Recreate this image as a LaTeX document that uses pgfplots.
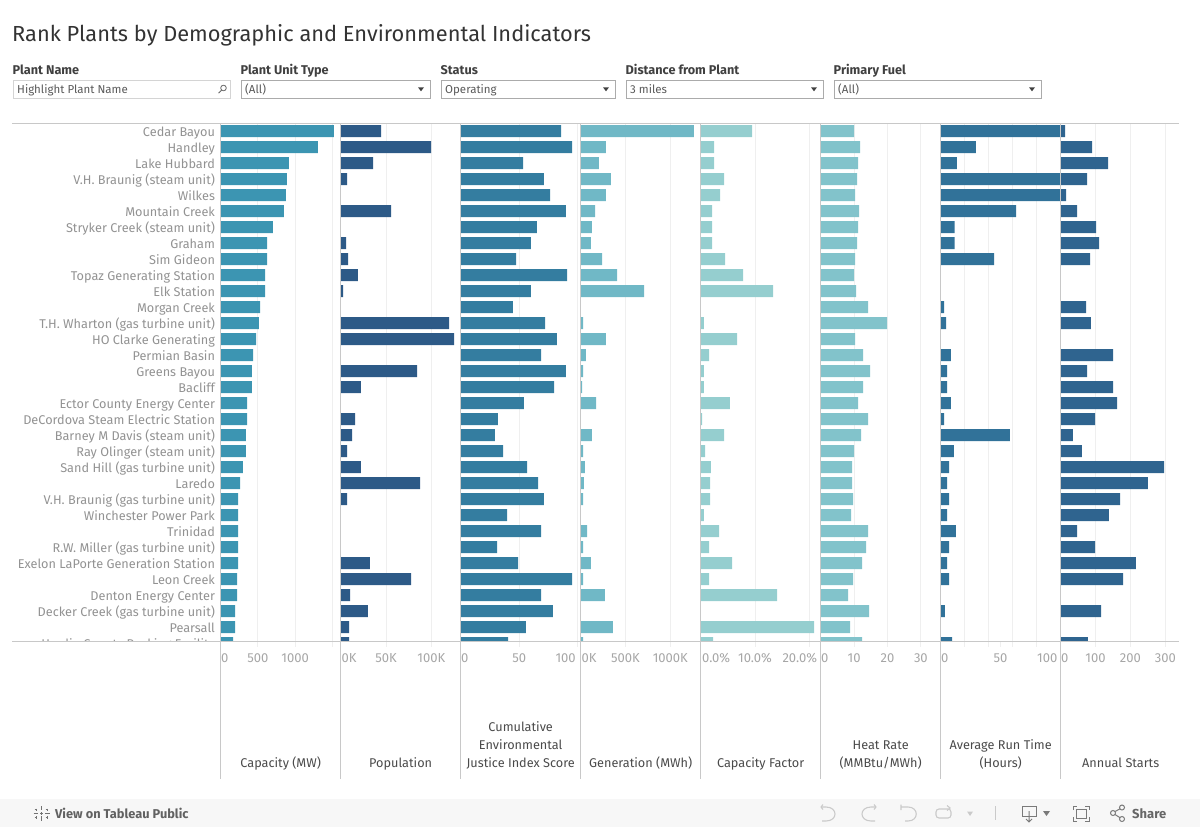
\documentclass[border=0pt]{standalone}
\usepackage{fontspec}
\usepackage{pgfplots}
\usepackage{pgfplotstable}
\pgfplotsset{compat=1.18}
\setmainfont{Fira Sans}
\definecolor{cA}{HTML}{3C95B2}
\definecolor{cB}{HTML}{2D5A87}
\definecolor{cC}{HTML}{347DA0}
\definecolor{cD}{HTML}{70B8C6}
\definecolor{cE}{HTML}{95CECF}
\definecolor{cF}{HTML}{82C3CB}
\definecolor{cG}{HTML}{317299}
\definecolor{cH}{HTML}{2F648F}
\definecolor{sepc}{HTML}{C8C8C8}
\definecolor{gridc}{HTML}{EFEFEF}
\definecolor{rowc}{HTML}{929292}
\definecolor{tickc}{HTML}{A6A6A6}
\definecolor{headc}{HTML}{4A4A4A}
\definecolor{iconc}{HTML}{CACACA}
\pgfplotstableread{
row cap pop ceji gen cf hr run starts
0 1523 44.5 85.8 1263 9.46 10.0 110 12.4
1 1308 99.6 95.2 282 2.46 11.8 29.5 89.8
2 918 35.7 53.3 204 2.46 11.2 13.6 135.7
3 891 7.0 71.2 338 4.30 10.9 110 75.5
4 878 nan 76.4 282 3.56 10.3 110 15.3
5 851 55.5 90.0 160 2.09 11.5 63.0 46.8
6 703 nan 65.2 126 2.09 11.2 11.7 101.3
7 623 5.9 60.1 115 2.09 10.9 11.7 109.9
8 623 8.1 47.3 238 4.48 10.3 44.6 84.1
9 596 19.1 90.9 405 7.80 10.0 nan nan
10 596 2.6 60.1 706 13.32 10.6 nan nan
11 529 nan 44.7 nan nan 14.2 2.8 72.6
12 515 119.5 72.1 26 0.61 19.9 4.5 86.9
13 475 125.0 82.3 282 6.69 10.3 nan nan
14 435 nan 68.7 59 1.54 12.7 8.6 150.0
15 421 84.2 90.0 26 0.61 14.8 5.3 75.5
16 421 22.4 79.8 15 0.61 12.7 5.3 150.0
17 354 nan 54.1 171 5.40 11.2 8.6 161.5
18 354 15.8 31.9 nan 0.25 14.2 2.8 98.4
19 340 12.5 29.3 126 4.30 12.1 57.9 35.3
20 340 7.0 36.2 26 0.80 10.0 11.1 61.1
21 300 22.4 56.7 48 1.90 9.4 7.0 296.2
22 260 87.5 66.1 37 1.72 9.4 5.3 250.3
23 233 7.0 71.2 26 1.72 9.7 7.0 170.1
24 233 nan 39.6 nan 0.61 9.1 5.3 138.5
25 233 nan 68.7 71 3.38 14.2 12.8 46.8
26 233 nan 31.1 26 1.54 13.6 7.0 98.4
27 233 32.3 49.0 115 5.77 12.4 5.3 215.9
28 220 77.6 95.2 26 1.54 9.7 7.0 178.7
29 220 10.3 68.7 271 14.06 8.2 nan nan
30 193 30.1 78.9 nan nan 14.5 3.6 115.6
31 193 9.2 55.8 360 20.88 8.8 nan nan
32 166 9.2 40.5 26 2.27 12.4 9.5 78.3
}\data
\pgfplotsset{
  panel/.style={
    scale only axis, width=120pt, height=517.5pt, anchor=south west,
    ymin=-0.4375, ymax=31.906, y dir=reverse,
    xmin=0, ytick=\empty,
    axis line style={draw=none},
    xtick pos=bottom, xtick align=outside,
    major tick length=5pt, minor tick length=5pt,
    every tick/.style={gridc, line width=0.9pt},
    xmajorgrids=true,
    major grid style={gridc, line width=0.9pt},
    minor grid style={gridc, line width=0.9pt},
    xticklabel style={font=\fontsize{13}{15}\selectfont, text=tickc, yshift=-5.5pt, inner sep=1pt, text height=9pt, text depth=0pt, anchor=north},
    xlabel style={at={(axis description cs:0.5,0)}, anchor=south, yshift=-126.5pt, align=center, text depth=0pt, inner sep=0pt,
       font=\fontsize{12.7}{18}\selectfont, text=headc},
    clip=true,
  },
  bbar/.style={xbar, bar width=12pt, bar shift=0pt, draw=none, fill=#1},
}
\begin{document}
\begin{tikzpicture}
\path[use as bounding box] (0pt,0pt) rectangle (1200pt,-827pt);
% row labels
\begin{axis}[scale only axis, width=120pt, height=535pt, anchor=north west, at={(220.67pt,-124pt)},
  ymin=-0.4375, ymax=33, y dir=reverse, xmin=0, xmax=1613, xtick=\empty,
  axis line style={draw=none}, ytick={0,1,...,32}, major tick length=0pt,
  every tick/.style={draw=none},
  yticklabel style={font=\fontsize{12.7}{15}\selectfont, text=rowc, anchor=east, inner sep=0pt, xshift=-5.5pt, yshift=-2.1pt, text height=9pt, text depth=2.5pt},
  yticklabels={Cedar Bayou,Handley,Lake Hubbard,V.H. Braunig (steam unit),Wilkes,Mountain Creek,Stryker Creek (steam unit),Graham,Sim Gideon,Topaz Generating Station,Elk Station,Morgan Creek,T.H. Wharton (gas turbine unit),HO Clarke Generating,Permian Basin,Greens Bayou,Bacliff,Ector County Energy Center,DeCordova Steam Electric Station,Barney M Davis (steam unit),Ray Olinger (steam unit),Sand Hill (gas turbine unit),Laredo,V.H. Braunig (gas turbine unit),Winchester Power Park,Trinidad,R.W. Miller (gas turbine unit),Exelon LaPorte Generation Station,Leon Creek,Denton Energy Center,Decker Creek (gas turbine unit),Pearsall,Hardin County Peaking Facility}]
\addplot[draw=none, mark=none] table[x=cap,y=row]{\data};
\end{axis}
\fill[white] (0pt,-641.5pt) rectangle (220pt,-665pt);
% panels
\begin{axis}[panel, at={(220.67pt,-641.5pt)}, xmax=1613, xtick={0,500,1000,1500},
  xticklabels={\hspace*{8pt}0,500,1000,{}}, xlabel={Capacity (MW)}]
\addplot[bbar=cA] table[x=cap,y=row]{\data};
\end{axis}
\begin{axis}[panel, at={(340.67pt,-641.5pt)}, xmax=132.3, xtick={0,50,100},
  xticklabels={\hspace*{17pt}0K,50K,100K}, xlabel={Population}]
\addplot[bbar=cB] table[x=pop,y=row]{\data};
\end{axis}
\begin{axis}[panel, at={(460.67pt,-641.5pt)}, xmax=102.56, xtick={0,50,100},
  xticklabels={\hspace*{8pt}0,50,100\hspace*{24pt}}, xlabel={Cumulative\\Environmental\\Justice Index Score}]
\addplot[bbar=cC] table[x=ceji,y=row]{\data};
\end{axis}
\begin{axis}[panel, at={(580.67pt,-641.5pt)}, xmax=1337.8, xtick={0,500,1000},
  xticklabels={\hspace*{17pt}0K,500K,1000K}, xlabel={Generation (MWh)}]
\addplot[bbar=cD] table[x=gen,y=row]{\data};
\end{axis}
\begin{axis}[panel, at={(700.67pt,-641.5pt)}, xmax=22.1, xtick={0,10,20},
  xticklabels={\hspace*{31pt}0.0\%,10.0\%,20.0\%\hspace*{19pt}}, xlabel={Capacity Factor}]
\addplot[bbar=cE] table[x=cf,y=row]{\data};
\end{axis}
\begin{axis}[panel, at={(820.67pt,-641.5pt)}, xmax=35.93, xtick={0,10,20,30},
  xticklabels={\hspace*{8pt}0,10,20,30}, xlabel={Heat Rate\\(MMBtu/MWh)}]
\addplot[bbar=cF] table[x=hr,y=row]{\data};
\end{axis}
\begin{axis}[panel, at={(940.67pt,-641.5pt)}, xmax=100.33, xtick={0,50,100},
  minor xtick={20,40,60,80}, xmajorgrids=false, xminorgrids=true,
  xticklabels={\hspace*{8pt}0,50,100\hspace*{26pt}}, xlabel={Average Run Time\\(Hours)}]
\addplot[bbar=cG] table[x=run,y=row]{\data};
\end{axis}
\begin{axis}[panel, at={(1060.67pt,-641.5pt)}, xmax=344, xtick={0,100,200,300},
  xticklabels={\hspace*{8pt}0,100,200,300}, xlabel={Annual Starts}]
\addplot[bbar=cH] table[x=starts,y=row]{\data};
\end{axis}
\begin{scope}[x=1pt,y=-1pt]
% rules
\draw[sepc, line width=1pt] (12,123.7) -- (1179,123.7);
\draw[sepc, line width=1pt] (12,641.3) -- (1179,641.3);
\foreach \xx in {220.5,340.5,460.5,580.5,700.5,820.5,940.5,1060.5}
  \draw[sepc, line width=1pt] (\xx,124) -- (\xx,778.5);
% title
\node[anchor=base west, inner sep=0pt, text=black!80, font=\fontsize{21.8}{26}\selectfont] at (12,41) {Rank Plants by Demographic and Environmental Indicators};
% filters
\foreach \xx/\lab in {12.5/Plant Name,240.5/Plant Unit Type,440.5/Status,625.5/Distance from Plant,833.5/Primary Fuel}
  \node[anchor=base west, inner sep=0pt, text=black!75, font=\fontsize{12.7}{14}\selectfont\bfseries] at (\xx,74) {\lab};
\draw[black!17, line width=1pt] (13.5,80) rectangle (230.5,98);
\foreach \a/\b in {241.5/430.5,441.5/615.5,626.5/823.5,834.5/1041.5}
  \draw[black!33, line width=1pt] (\a,80) rectangle (\b,98);
\foreach \xx/\lab in {17/Highlight Plant Name,245/(All),445/Operating,630/3 miles,838/(All)}
  \node[anchor=base west, inner sep=0pt, text=black!65, font=\fontsize{11.5}{14}\selectfont] at (\xx,93) {\lab};
\foreach \xx in {421,606,814,1032}
  \fill[black!75] (\xx-3,87.3) -- (\xx+3,87.3) -- (\xx,91.3) -- cycle;
\draw[black!60, line width=0.8pt] (223.5,88) circle (2.8) (221.5,90.2) -- (218.5,93.2);
% bottom bar
\fill[black!3] (0,799) rectangle (1200,827);
\begin{scope}[black!55, line width=1pt]
\draw (41.5,806) -- (41.5,810) (41.5,816) -- (41.5,821) (33.5,813.5) -- (38,813.5) (45,813.5) -- (49.5,813.5);
\draw (36,808.5) -- (36,811) (34.7,809.7) -- (37.3,809.7) (47,808.5) -- (47,811) (45.7,809.7) -- (48.3,809.7);
\draw (36,816) -- (36,818.5) (34.7,817.3) -- (37.3,817.3) (47,816) -- (47,818.5) (45.7,817.3) -- (48.3,817.3);
\draw (41.5,812) -- (41.5,815) (40,813.5) -- (43,813.5);
\end{scope}
\node[anchor=base west, inner sep=0pt, text=black!62, font=\fontsize{12.8}{14}\selectfont\bfseries] at (55,818) {View on Tableau Public};
\begin{scope}[iconc, line width=1.1pt]
\draw (821,807) -- (826,807) .. controls (838,807) and (838,821) .. (826,821) -- (822,821);
\draw (821,807) -- (823,804.5) (821,807) -- (823,809.5);
\draw (876,807) -- (871,807) .. controls (859,807) and (859,821) .. (871,821) -- (875,821);
\draw (876,807) -- (874,804.5) (876,807) -- (874,809.5);
\draw (901,804.5) -- (901,810) (901,807) -- (908,807) .. controls (919,807) and (919,821) .. (908,821) -- (905,821);
\draw[rounded corners=3pt] (936,809) rectangle (951,818);
\draw (947,805.5) -- (950,808) -- (947,810.5);
\fill (967,811.5) -- (973,811.5) -- (970,816) -- cycle;
\draw (995.5,806) -- (995.5,820);
\end{scope}
\begin{scope}[black!52, line width=1pt]
\draw (1022,806.5) rectangle (1036,816) ;
\draw (1029,811) -- (1029,822) (1026,819) -- (1029,822) -- (1032,819);
\fill (1043,811) -- (1050,811) -- (1046.5,816) -- cycle;
\draw (1073,810) -- (1073,806) -- (1077,806) (1085,806) -- (1089,806) -- (1089,810) (1089,817) -- (1089,821) -- (1085,821) (1077,821) -- (1073,821) -- (1073,817);
\draw (1076,809) rectangle (1086,818);
\draw (1113,813) circle (2.5) (1122,807.5) circle (2.5) (1122,819) circle (2.5) (1115,811.5) -- (1120,808.8) (1115,814.5) -- (1120,817.7);
\end{scope}
\node[anchor=base west, inner sep=0pt, text=black!60, font=\fontsize{13}{14}\selectfont\bfseries] at (1132,818) {Share};
\end{scope}
\end{tikzpicture}
\end{document}
